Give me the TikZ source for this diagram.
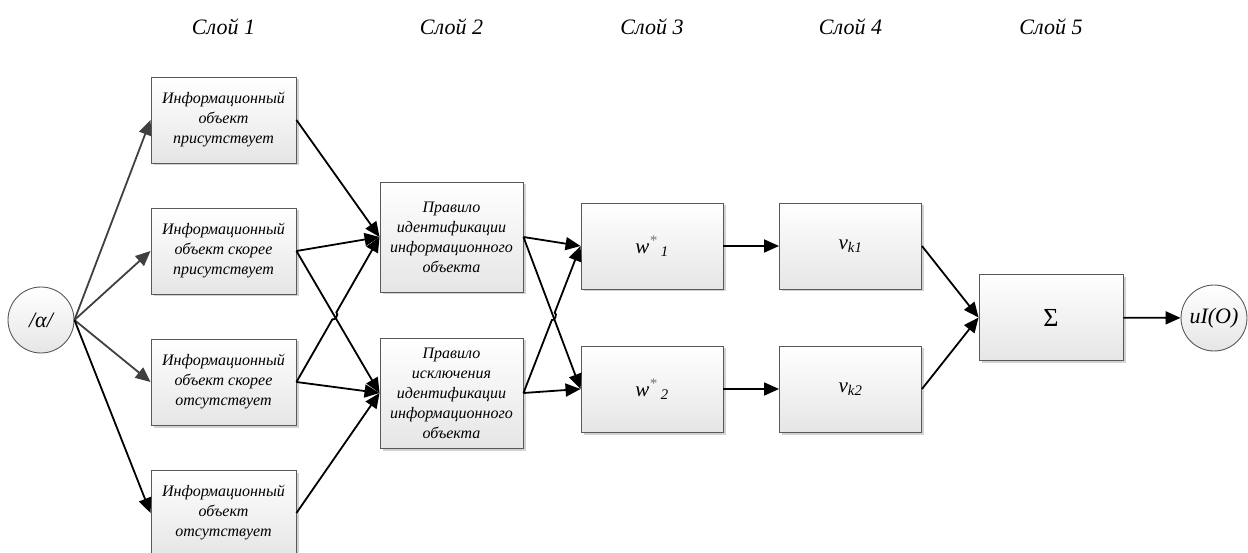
\documentclass[tikz,border=0pt]{standalone}
\usepackage{fontspec}
\setmainfont{Liberation Serif}
\usetikzlibrary{calc,positioning,arrows.meta,shadows}

\tikzset{
 block/.style={draw=black!65, line width=0.9pt, top color=white, bottom color=black!10,
  drop shadow={shadow xshift=2.5pt, shadow yshift=-2.5pt, fill=black!35, opacity=.5},
  align=center, inner sep=3pt, font=\fontsize{16}{20}\selectfont\itshape},
 inbox/.style={block, minimum width=145pt, minimum height=86pt},
 rulebox/.style={block, minimum width=143pt, minimum height=110pt},
 valbox/.style={block, minimum width=142pt, minimum height=86pt, font=\fontsize{21}{24}\selectfont\itshape},
 term/.style={circle, draw=black!65, line width=0.9pt, top color=white, bottom color=black!10,
  minimum size=66pt, inner sep=0pt, font=\fontsize{22}{24}\selectfont\itshape},
 layer/.style={font=\fontsize{22}{24}\selectfont\itshape},
 arr/.style={-{Triangle[length=15pt,width=13pt]}, line width=1.8pt},
 garr/.style={arr, draw=black!75}
}

\begin{document}
\begin{tikzpicture}[x=1pt, y=1pt, node distance=131pt]
 \useasboundingbox (0,0) rectangle (1248,-553);

 % layer captions
 \node (cap1) [layer] at (223.5,-27) {Слой 1};
 \node (cap2) [layer] at (451.5,-27) {Слой 2};
 \node (cap3) [layer] at (652,-27) {Слой 3};
 \node (cap4) [layer] at (850.5,-27) {Слой 4};
 \node (cap5) [layer] at (1051,-27) {Слой 5};

 \node (alpha) [term] at (41,-320) {/α/};

 % layer 1
 \node (obj1) [inbox] at (223.5,-120) {Информационный\\объект\\присутствует};
 \node (obj2) [inbox, below of=obj1] {Информационный\\объект скорее\\присутствует};
 \node (obj3) [inbox, below of=obj2] {Информационный\\объект скорее\\отсутствует};
 \node (obj4) [inbox, below of=obj3] {Информационный\\объект\\отсутствует};

 % layer 2
 \node (rule1) [rulebox] at (451.5,-237) {Правило\\идентификации\\информационного\\объекта};
 \node (rule2) [rulebox, below of=rule1, node distance=156pt] {Правило\\исключения\\идентификации\\информационного\\объекта};

 % layers 3 and 4
 \node (w1) [valbox] at (652,-246) {w\textsuperscript{\color{black!55}*}\,\textsubscript{1}};
 \node (w2) [valbox, below of=w1, node distance=143pt] {w\textsuperscript{\color{black!55}*}\,\textsubscript{2}};
 \node (v1) [valbox, right of=w1, node distance=198.5pt] {v\textsubscript{k1}};
 \node (v2) [valbox, right of=w2, node distance=198.5pt] {v\textsubscript{k2}};

 % layer 5
 \node (sum) [valbox, minimum width=144pt, font=\fontsize{26}{28}\selectfont] at (1051,-317.5) {Σ};
 \node (out) [term] at (1214,-318) {uI(O)};

 \draw[garr] (alpha.east) -- (obj1.west);
 \draw[garr] (alpha.east) -- (obj2.west);
 \draw[garr] (alpha.east) -- (obj3.west);
 \draw[arr] (alpha.east) -- (obj4.west);

 \coordinate (x1) at (intersection of obj2.east--rule2.west and obj3.east--rule1.west);
 \draw[arr] (obj1.east) -- (rule1.west);
 \draw[arr] (obj2.east) -- (rule1.west);
 \draw[arr] (obj2.east) -- (rule2.west);
 \draw[arr] (obj3.east) -- ($(x1)!4pt!(obj3.east)$) to[bend right=90] ($(x1)!4pt!(rule1.west)$) -- (rule1.west);
 \draw[arr] (obj3.east) -- (rule2.west);
 \draw[arr] (obj4.east) -- (rule2.west);

 \coordinate (x2) at (intersection of rule1.east--w2.west and rule2.east--w1.west);
 \draw[arr] (rule1.east) -- (w1.west);
 \draw[arr] (rule1.east) -- (w2.west);
 \draw[arr] (rule2.east) -- ($(x2)!4pt!(rule2.east)$) to[bend right=90] ($(x2)!4pt!(w1.west)$) -- (w1.west);
 \draw[arr] (rule2.east) -- (w2.west);

 \draw[arr] (w1) -- (v1);
 \draw[arr] (w2) -- (v2);
 \draw[arr] (v1.east) -- (sum.west);
 \draw[arr] (v2.east) -- (sum.west);
 \draw[arr] (sum) -- (out);
\end{tikzpicture}
\end{document}
